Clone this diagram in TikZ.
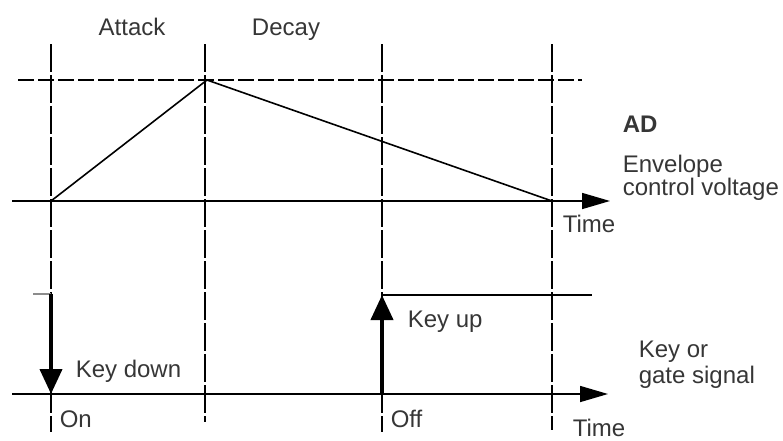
\documentclass[tikz,border=0pt]{standalone}
\usepackage{fontspec}
\setmainfont{Liberation Sans}
\usetikzlibrary{arrows.meta}
\definecolor{InkGrey}{HTML}{363636}

\begin{document}
\begin{tikzpicture}[x=.5pt,y=-.5pt,line width=.8pt,font=\fontsize{12}{13}\selectfont,
 every node/.style={inner sep=0pt,text=InkGrey},
 grid line/.style={dash pattern=on 14pt off 1.5pt},
 level line/.style={dash pattern=on 8pt off 2pt},
 time axis/.style={-{Triangle[length=14pt,width=8pt]}},
 key arrow/.style={line width=2pt,-{Triangle[length=12.5pt,width=11pt]}}]
\useasboundingbox (0,0) rectangle (783,440);
% time markers
\foreach \name/\x/\y in {on/51/432,peak/205/422,off/382/432,end/552/430}{
  \coordinate (\name top) at (\x,44);
  \coordinate (\name bot) at (\x,\y);
  \draw[grid line] (\name top) -- (\name bot);
}
% envelope control voltage
\coordinate (lvlstart) at (18,80);
\coordinate (lvlend) at (582,80);
\draw[level line] (lvlstart) -- (lvlend);
\coordinate (cvstart) at (12,201);
\coordinate (cvend) at (610,201);
\draw[time axis] (cvstart) -- (cvend);
\coordinate (envstart) at (51,201);
\coordinate (envpeak) at (207,80);
\coordinate (envend) at (552,201);
\draw (envstart) -- (envpeak) -- (envend);
% key / gate signal
\coordinate (gatestart) at (12,394);
\coordinate (gateend) at (608,394);
\draw[time axis] (gatestart) -- (gateend);
\coordinate (kdtick) at (33,294);
\coordinate (kdtop) at (51,294);
\coordinate (kdtip) at (51,394);
\draw[black!45] (kdtick) -- (kdtop);
\draw[key arrow] (kdtop) -- (kdtip);
\coordinate (kutail) at (382,394);
\coordinate (kutip) at (382,295);
\coordinate (kuend) at (592,295);
\draw (kutip) -- (kuend);
\draw[key arrow] (kutail) -- (kutip);
% labels
\node[anchor=base] (attack) at (132,35) {Attack};
\node[anchor=base] (decay) at (286,35) {Decay};
\node[anchor=base west,font=\fontsize{12}{13}\selectfont\bfseries] (ad) at (622,132) {AD};
\node[anchor=base west] (env1) at (622,172) {Envelope};
\node[anchor=base west] (env2) at (622,195) {control voltage};
\node[anchor=base west] (time1) at (562,232) {Time};
\node[anchor=base west] (keyup) at (407,327) {Key up};
\node[anchor=base west] (gate1) at (638,357) {Key or};
\node[anchor=base west] (gate2) at (638,383) {gate signal};
\node[anchor=base west] (keydown) at (75,377) {Key down};
\node[anchor=base west] (on) at (59,427) {On};
\node[anchor=base west] (off) at (390,427) {Off};
\node[anchor=base west] (time2) at (572,436) {Time};
\end{tikzpicture}
\end{document}
